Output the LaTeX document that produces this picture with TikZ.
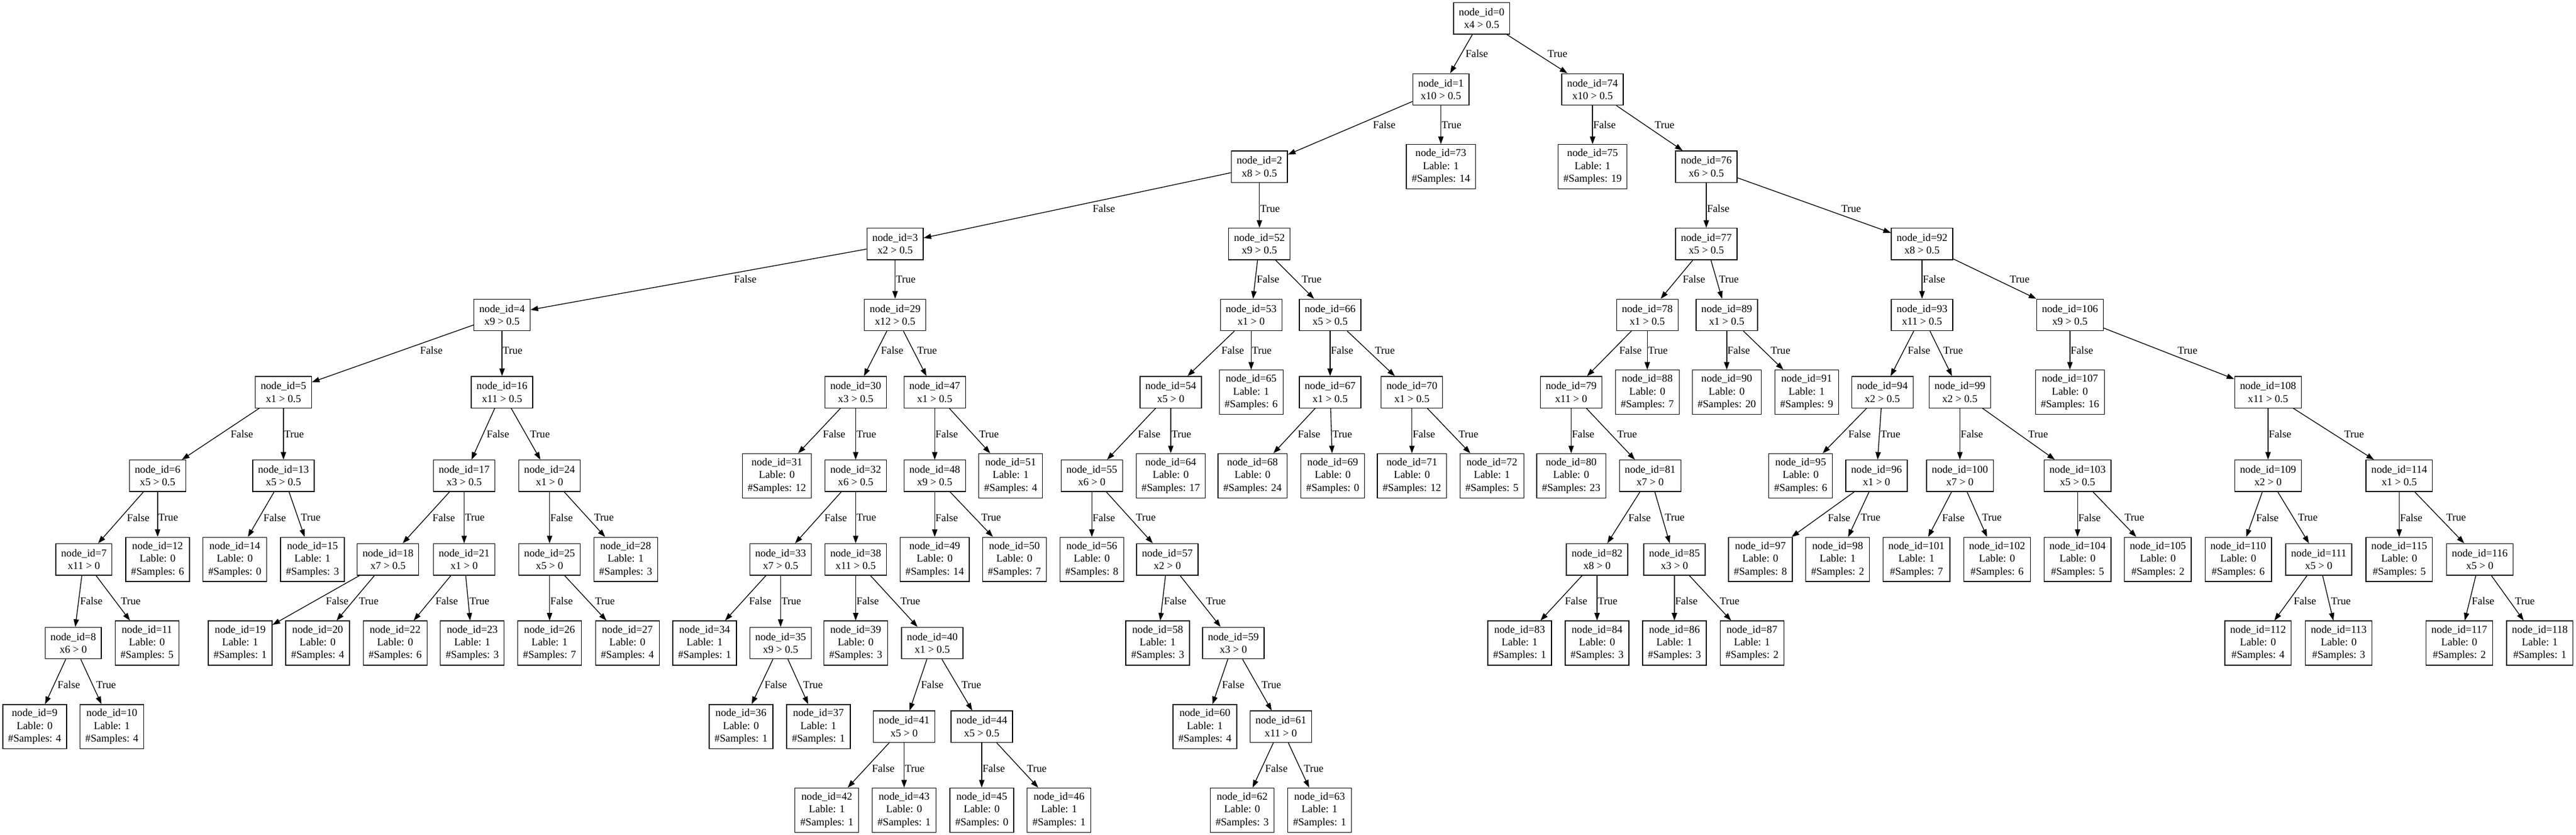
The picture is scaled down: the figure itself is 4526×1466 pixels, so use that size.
\documentclass[tikz,border=0pt]{standalone}
\usepackage{fontspec}
\setmainfont{Liberation Serif}
\usetikzlibrary{arrows.meta,calc}
\newcommand\RankY[1]{\ifcase#1 32.3\or 156.9\or 292.6\or 428.3\or 552.9\or 688.6\or 835.4\or 982.2\or 1129.0\or 1275.8\or 1422.3\fi}
\newcommand\LabY[1]{\ifcase#1 94.6\or 219.2\or 366.0\or 490.6\or 615.2\or 762.0\or 908.8\or 1055.6\or 1202.4\or 1349.0\fi}
\newcommand\gvfont{\fontsize{14pt}{16.8pt}\selectfont}
\newcommand\TIN[4]{\edef\yy{\RankY{#3}}\node[inode] (n#1) at (#2,\yy) {node\_id=#1\\#4};}
\newcommand\TLN[5]{\edef\yy{\RankY{#3}}\node[leafnode] (n#1) at (#2,\yy) {node\_id=#1\\Lable: #4\\\#Samples: #5};}
\newcommand\TEdge[4]{%
  \edef\ly{\LabY{#4}}%
  \draw[arr] (n#1) -- (n#2);
  \path let \p1=(n#1.center), \p2=(n#2.center),
    \n1={ifthenelse(\x2<\x1-0.2pt,-0.75*(\ly-11),-0.75*(\ly+11))},
    \n2={\x1+(\x2-\x1)/(\y2-\y1)*(\n1-\y1)}
  in node[elabel] at (\n2,{-0.75*\ly pt}) {#3};
}
\newcommand\TKids[4]{\TEdge{#1}{#2}{False}{#4}\TEdge{#1}{#3}{True}{#4}}
\begin{document}
\begin{tikzpicture}[x=0.75pt,y=-0.75pt,
  box/.style={draw=black, line width=1pt, rectangle, align=center, inner xsep=7pt, inner ysep=0pt, font=\gvfont},
  inode/.style={box, minimum height=41.5pt},
  leafnode/.style={box, minimum height=58.3pt},
  arr/.style={line width=1pt, -{Triangle[length=10pt,width=7pt]}},
  elabel/.style={anchor=west, inner sep=0pt, xshift=0.8pt, font=\gvfont}]
\useasboundingbox (0,0) rectangle (4526,1466);
\fill[white] (0,0) rectangle (4526,1466);
% internal nodes
\TIN{0}{2603.2}{0}{x4 > 0.5}
\TIN{1}{2531.6}{1}{x10 > 0.5}
\TIN{74}{2798.1}{1}{x10 > 0.5}
\TIN{2}{2212.8}{2}{x8 > 0.5}
\TIN{76}{2997.9}{2}{x6 > 0.5}
\TIN{3}{1572.7}{3}{x2 > 0.5}
\TIN{52}{2212.8}{3}{x9 > 0.5}
\TIN{77}{2997.9}{3}{x5 > 0.5}
\TIN{92}{3377.0}{3}{x8 > 0.5}
\TIN{4}{882.1}{4}{x9 > 0.5}
\TIN{29}{1572.7}{4}{x12 > 0.5}
\TIN{53}{2198.3}{4}{x1 > 0}
\TIN{66}{2337.0}{4}{x5 > 0.5}
\TIN{78}{2894.2}{4}{x1 > 0.5}
\TIN{89}{3033.8}{4}{x1 > 0.5}
\TIN{93}{3377.0}{4}{x11 > 0.5}
\TIN{106}{3636.8}{4}{x9 > 0.5}
\TIN{5}{498.0}{5}{x1 > 0.5}
\TIN{16}{882.1}{5}{x11 > 0.5}
\TIN{30}{1503.4}{5}{x3 > 0.5}
\TIN{47}{1642.3}{5}{x1 > 0.5}
\TIN{54}{2057.0}{5}{x5 > 0}
\TIN{67}{2337.0}{5}{x1 > 0.5}
\TIN{70}{2480.7}{5}{x1 > 0.5}
\TIN{79}{2760.5}{5}{x11 > 0}
\TIN{94}{3307.2}{5}{x2 > 0.5}
\TIN{99}{3443.5}{5}{x2 > 0.5}
\TIN{108}{3984.9}{5}{x11 > 0.5}
\TIN{6}{276.9}{6}{x5 > 0.5}
\TIN{13}{498.0}{6}{x5 > 0.5}
\TIN{17}{815.5}{6}{x3 > 0.5}
\TIN{24}{965.6}{6}{x1 > 0}
\TIN{32}{1503.4}{6}{x6 > 0.5}
\TIN{48}{1642.3}{6}{x9 > 0.5}
\TIN{55}{1918.3}{6}{x6 > 0}
\TIN{81}{2899.3}{6}{x7 > 0}
\TIN{96}{3297.0}{6}{x1 > 0}
\TIN{100}{3443.5}{6}{x7 > 0}
\TIN{103}{3650.2}{6}{x5 > 0.5}
\TIN{109}{3984.9}{6}{x2 > 0}
\TIN{114}{4215.4}{6}{x1 > 0.5}
\TIN{7}{147.4}{7}{x11 > 0}
\TIN{18}{681.7}{7}{x7 > 0.5}
\TIN{21}{815.5}{7}{x1 > 0}
\TIN{25}{965.6}{7}{x5 > 0}
\TIN{33}{1371.5}{7}{x7 > 0.5}
\TIN{38}{1503.4}{7}{x11 > 0.5}
\TIN{57}{2051.0}{7}{x2 > 0}
\TIN{82}{2806.0}{7}{x8 > 0}
\TIN{85}{2941.9}{7}{x3 > 0}
\TIN{111}{4074.0}{7}{x5 > 0}
\TIN{116}{4356.9}{7}{x5 > 0}
\TIN{8}{128.7}{8}{x6 > 0}
\TIN{35}{1371.5}{8}{x9 > 0.5}
\TIN{40}{1638.1}{8}{x1 > 0.5}
\TIN{59}{2167.0}{8}{x3 > 0}
\TIN{41}{1588.5}{9}{x5 > 0}
\TIN{44}{1724.9}{9}{x5 > 0.5}
\TIN{61}{2250.4}{9}{x11 > 0}
% leaves
\TLN{73}{2531.6}{2}{1}{14}
\TLN{75}{2798.1}{2}{1}{19}
\TLN{65}{2198.3}{5}{1}{6}
\TLN{88}{2894.2}{5}{0}{7}
\TLN{90}{3033.8}{5}{0}{20}
\TLN{91}{3174.2}{5}{1}{9}
\TLN{107}{3636.8}{5}{0}{16}
\TLN{31}{1364.9}{6}{0}{12}
\TLN{51}{1775.7}{6}{1}{4}
\TLN{64}{2057.0}{6}{0}{17}
\TLN{68}{2200.6}{6}{0}{24}
\TLN{69}{2341.6}{6}{0}{0}
\TLN{71}{2480.7}{6}{0}{12}
\TLN{72}{2621.2}{6}{1}{5}
\TLN{80}{2760.5}{6}{0}{23}
\TLN{95}{3163.7}{6}{0}{6}
\TLN{12}{276.9}{7}{0}{6}
\TLN{14}{412.5}{7}{0}{0}
\TLN{15}{549.0}{7}{1}{3}
\TLN{28}{1099.2}{7}{1}{3}
\TLN{49}{1642.3}{7}{0}{14}
\TLN{50}{1782.3}{7}{0}{7}
\TLN{56}{1918.3}{7}{0}{8}
\TLN{97}{3092.9}{7}{0}{8}
\TLN{98}{3228.7}{7}{1}{2}
\TLN{101}{3367.2}{7}{1}{7}
\TLN{102}{3508.8}{7}{0}{6}
\TLN{104}{3650.2}{7}{0}{5}
\TLN{105}{3791.4}{7}{0}{2}
\TLN{110}{3932.5}{7}{0}{6}
\TLN{115}{4215.4}{7}{0}{5}
\TLN{11}{258.2}{8}{0}{5}
\TLN{19}{422.1}{8}{1}{1}
\TLN{20}{558.1}{8}{0}{4}
\TLN{22}{694.2}{8}{0}{6}
\TLN{23}{829.8}{8}{1}{3}
\TLN{26}{965.6}{8}{1}{7}
\TLN{27}{1102.3}{8}{0}{4}
\TLN{34}{1238.0}{8}{1}{1}
\TLN{39}{1503.4}{8}{0}{3}
\TLN{58}{2034.0}{8}{1}{3}
\TLN{83}{2669.9}{8}{1}{1}
\TLN{84}{2806.0}{8}{0}{3}
\TLN{86}{2941.9}{8}{1}{3}
\TLN{87}{3078.2}{8}{1}{2}
\TLN{112}{3967.3}{8}{0}{4}
\TLN{113}{4109.1}{8}{0}{3}
\TLN{117}{4320.9}{8}{0}{2}
\TLN{118}{4462.4}{8}{1}{1}
\TLN{9}{60.9}{9}{0}{4}
\TLN{10}{196.6}{9}{1}{4}
\TLN{36}{1301.9}{9}{0}{1}
\TLN{37}{1437.9}{9}{1}{1}
\TLN{60}{2116.9}{9}{1}{4}
\TLN{42}{1452.8}{10}{1}{1}
\TLN{43}{1588.5}{10}{0}{1}
\TLN{45}{1724.9}{10}{0}{0}
\TLN{46}{1860.7}{10}{1}{1}
\TLN{62}{2182.4}{10}{0}{3}
\TLN{63}{2318.4}{10}{1}{1}
% edges
\TKids{0}{1}{74}{0}
\TKids{1}{2}{73}{1}
\TKids{74}{75}{76}{1}
\TKids{2}{3}{52}{2}
\TKids{76}{77}{92}{2}
\TKids{3}{4}{29}{3}
\TKids{52}{53}{66}{3}
\TKids{77}{78}{89}{3}
\TKids{92}{93}{106}{3}
\TKids{4}{5}{16}{4}
\TKids{29}{30}{47}{4}
\TKids{53}{54}{65}{4}
\TKids{66}{67}{70}{4}
\TKids{78}{79}{88}{4}
\TKids{89}{90}{91}{4}
\TKids{93}{94}{99}{4}
\TKids{106}{107}{108}{4}
\TKids{5}{6}{13}{5}
\TKids{16}{17}{24}{5}
\TKids{30}{31}{32}{5}
\TKids{47}{48}{51}{5}
\TKids{54}{55}{64}{5}
\TKids{67}{68}{69}{5}
\TKids{70}{71}{72}{5}
\TKids{79}{80}{81}{5}
\TKids{94}{95}{96}{5}
\TKids{99}{100}{103}{5}
\TKids{108}{109}{114}{5}
\TKids{6}{7}{12}{6}
\TKids{13}{14}{15}{6}
\TKids{17}{18}{21}{6}
\TKids{24}{25}{28}{6}
\TKids{32}{33}{38}{6}
\TKids{48}{49}{50}{6}
\TKids{55}{56}{57}{6}
\TKids{81}{82}{85}{6}
\TKids{96}{97}{98}{6}
\TKids{100}{101}{102}{6}
\TKids{103}{104}{105}{6}
\TKids{109}{110}{111}{6}
\TKids{114}{115}{116}{6}
\TKids{7}{8}{11}{7}
\TKids{18}{19}{20}{7}
\TKids{21}{22}{23}{7}
\TKids{25}{26}{27}{7}
\TKids{33}{34}{35}{7}
\TKids{38}{39}{40}{7}
\TKids{57}{58}{59}{7}
\TKids{82}{83}{84}{7}
\TKids{85}{86}{87}{7}
\TKids{111}{112}{113}{7}
\TKids{116}{117}{118}{7}
\TKids{8}{9}{10}{8}
\TKids{35}{36}{37}{8}
\TKids{40}{41}{44}{8}
\TKids{59}{60}{61}{8}
\TKids{41}{42}{43}{9}
\TKids{44}{45}{46}{9}
\TKids{61}{62}{63}{9}
\end{tikzpicture}
\end{document}
